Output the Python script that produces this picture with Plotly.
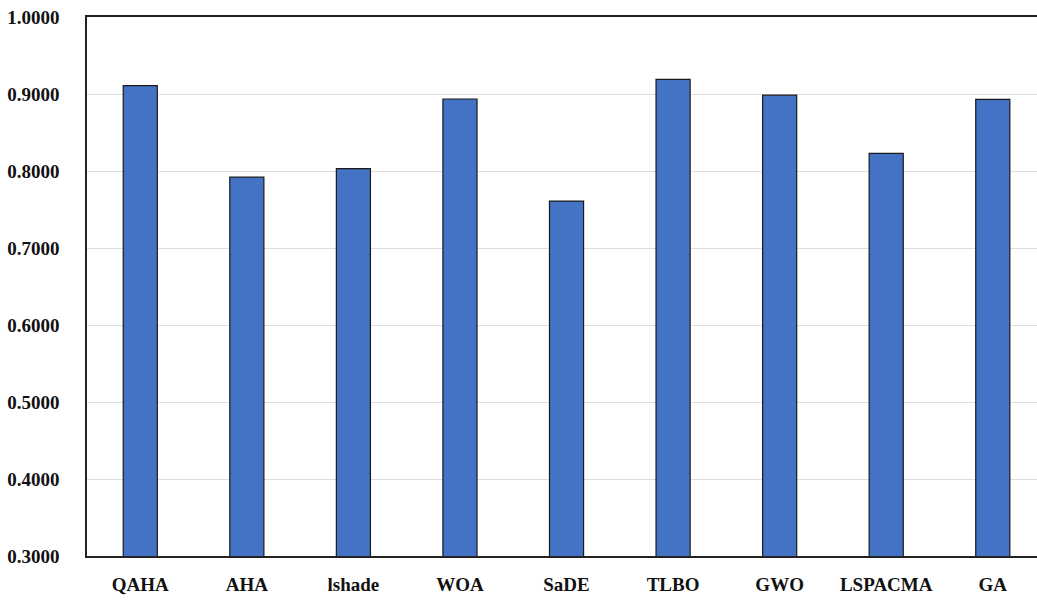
import plotly.graph_objects as go

algorithms = ["QAHA", "AHA", "lshade", "WOA", "SaDE", "TLBO", "GWO", "LSPACMA", "GA"]
scores = [0.9110, 0.7920, 0.8030, 0.8935, 0.7610, 0.9190, 0.8985, 0.8230, 0.8930]
y_ticks = [0.3, 0.4, 0.5, 0.6, 0.7, 0.8, 0.9, 1.0]

font_family = "Liberation Serif"

fig = go.Figure(
    go.Bar(
        x=list(range(len(algorithms))),
        y=scores,
        marker=dict(color="#4472c4", line=dict(color="#1a1a1a", width=1.2)),
        width=0.32,
    )
)

fig.update_layout(
    width=1037,
    height=600,
    margin=dict(l=87, r=0, t=17, b=44),
    paper_bgcolor="white",
    plot_bgcolor="white",
    showlegend=False,
    font=dict(family=font_family, size=19, color="#111111"),
)

fig.update_xaxes(
    tickmode="array",
    tickvals=list(range(len(algorithms))),
    ticktext=[f"<b>{a}</b>" for a in algorithms],
    range=[-0.5, 8.415],
    showline=True,
    linecolor="#222222",
    linewidth=1.5,
    mirror=True,
    showgrid=False,
    ticks="",
    ticklabelstandoff=10,
)

fig.update_yaxes(
    range=[0.3, 1.0],
    tickmode="array",
    tickvals=y_ticks,
    ticktext=[f"<b>{v:.4f}</b>" for v in y_ticks],
    showline=True,
    linecolor="#222222",
    linewidth=1.5,
    showgrid=True,
    gridcolor="#dedede",
    gridwidth=1.2,
    zeroline=False,
    ticks="",
    ticklabelstandoff=22,
)

fig.write_html("out.html")
